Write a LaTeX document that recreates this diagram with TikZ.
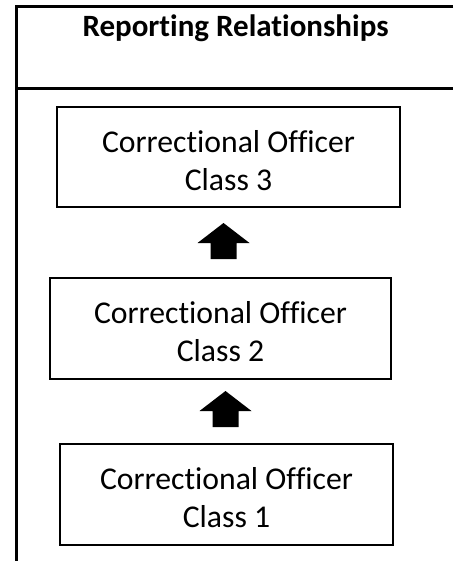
\documentclass[tikz,border=0pt]{standalone}
\usepackage{fontspec}
\setmainfont{Carlito}[Ligatures=CommonOff]
\usetikzlibrary{calc}
\newcommand\twolines[2]{\rule{0pt}{29pt}#1\\#2}
\begin{document}
\begin{tikzpicture}[x=1pt,y=-1pt,
  frame/.style={line width=3pt},
  box/.style={draw, line width=2pt, align=center, inner sep=0pt,
    font=\fontsize{31.7}{38}\selectfont},
  titlefont/.style={font=\bfseries\fontsize{31}{36}\selectfont},
  blockarrow/.pic={\fill (-13,18) -- (-13,2) -- (-26,2) -- (0,-18) -- (26,2) -- (13,2) -- (13,18) -- cycle;}
]
\useasboundingbox (0,0) rectangle (453,561);
% table frame
\draw[frame] (453,7) -| (16,561);
\draw[frame] (16,89) -- (453,89);
\node[titlefont, anchor=base, inner sep=0pt] (title) at (235.5,37) {Reporting Relationships};
% boxes
\node[box, minimum width=343pt, minimum height=100pt] (b3) at (228.5,157) {\twolines{Correctional Officer}{Class 3}};
\node[box, minimum width=341pt, minimum height=101pt] (b2) at (220.5,328.5) {\twolines{Correctional Officer}{Class 2}};
\node[box, minimum width=333pt, minimum height=101pt] (b1) at (226.5,494.5) {\twolines{Correctional Officer}{Class 1}};
% block arrows
\path ($(b3.south)!0.5!(b2.north)+(-1,-1.5)$) pic {blockarrow};
\path ($(b2.south)!0.5!(b1.north)+(2,-2.5)$) pic {blockarrow};
\end{tikzpicture}
\end{document}
